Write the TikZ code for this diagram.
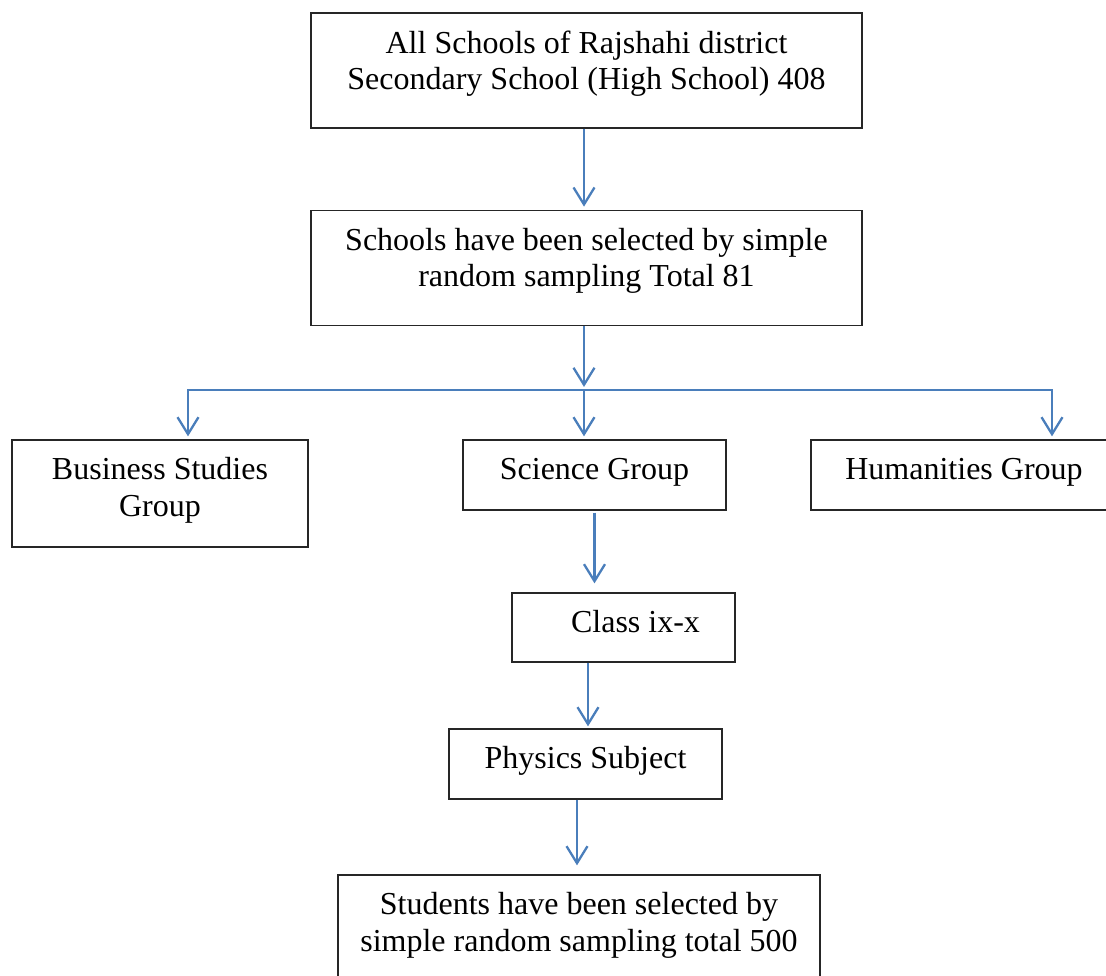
\documentclass[tikz,border=0pt]{standalone}
\usepackage{fontspec}
\setmainfont{Liberation Serif}
\usetikzlibrary{positioning,arrows.meta}
\definecolor{lineblue}{HTML}{4A7EBB}
\definecolor{boxgray}{HTML}{262626}
\newcommand{\firstline}{\rule{0pt}{22pt}}

\begin{document}
\begin{tikzpicture}[x=1pt, y=-1pt,
  box/.style={rectangle, draw=boxgray, line width=1.3pt, inner sep=0pt},
  boxtext/.style={font=\fontsize{32}{36.8}\selectfont, align=center, inner sep=0pt, anchor=north, yshift=-18pt},
  arr/.style={draw=lineblue, line width=2.3pt, -{Straight Barb[length=17pt, width=21pt]}},
  node distance=81pt]

\useasboundingbox (0,0) rectangle (1106,976);
\clip (0,0) rectangle (1106,976);

% boxes
\node[box, minimum width=551pt, minimum height=115pt,
  label={[boxtext]north:{\firstline All Schools of Rajshahi district\\Secondary School (High School) 408}}] (all) at (586.5,70.5) {};
\node[box, minimum width=551pt, minimum height=115pt,
  label={[boxtext]north:{\firstline Schools have been selected by simple\\random sampling Total 81}}] (sel) [below=of all] {};

\node[box, minimum width=296pt, minimum height=107pt,
  label={[boxtext]north:{\firstline Business Studies\\Group}}] (bus) at (160,493.5) {};
\node[box, minimum width=263pt, minimum height=70pt,
  label={[boxtext]north:{\firstline Science Group}}] (sci) at (594.5,475) {};
\node[box, minimum width=306pt, minimum height=70pt,
  label={[boxtext]north:{\firstline Humanities Group}}] (hum) at (964,475) {};

\node[box, minimum width=223pt, minimum height=69pt,
  label={[boxtext, xshift=12pt]north:{\firstline Class ix-x}}] (cls) at (623.5,627.5) {};
\node[box, minimum width=273pt, minimum height=70pt,
  label={[boxtext]north:{\firstline Physics Subject}}] (phy) at (585.5,764) {};
\node[box, minimum width=482pt, minimum height=112pt,
  label={[boxtext]north:{\firstline Students have been selected by\\simple random sampling total 500}}] (stu) at (579,931) {};

% connectors
\coordinate (split) at ([xshift=-2.5pt, yshift=-64pt]sel.south);
\coordinate (busin) at ([xshift=28pt]bus.north);
\coordinate (humin) at ([xshift=88pt]hum.north);

\draw[arr, shorten >=3pt] ([xshift=-2.5pt]all.south) -- ([xshift=-2.5pt]sel.north);
\draw[arr, shorten >=3pt] ([xshift=-2.5pt]sel.south) -- (split);
\draw[arr, {Straight Barb[length=17pt, width=21pt]}-{Straight Barb[length=17pt, width=21pt]}, shorten <=3pt, shorten >=3pt]
  (busin) -- (busin |- split) -- (humin |- split) -- (humin);
\draw[arr, shorten >=3pt] (split) -- ([xshift=-10.5pt]sci.north);
\draw[arr, shorten >=9pt] ([yshift=-2pt]sci.south) -- (sci.south |- cls.north);
\draw[arr, shorten >=2pt] ([xshift=-35.5pt]cls.south) -- ([xshift=2.5pt]phy.north);
\draw[arr, shorten >=9pt] ([xshift=-8.5pt]phy.south) -- ([xshift=-2pt]stu.north);

\end{tikzpicture}
\end{document}
